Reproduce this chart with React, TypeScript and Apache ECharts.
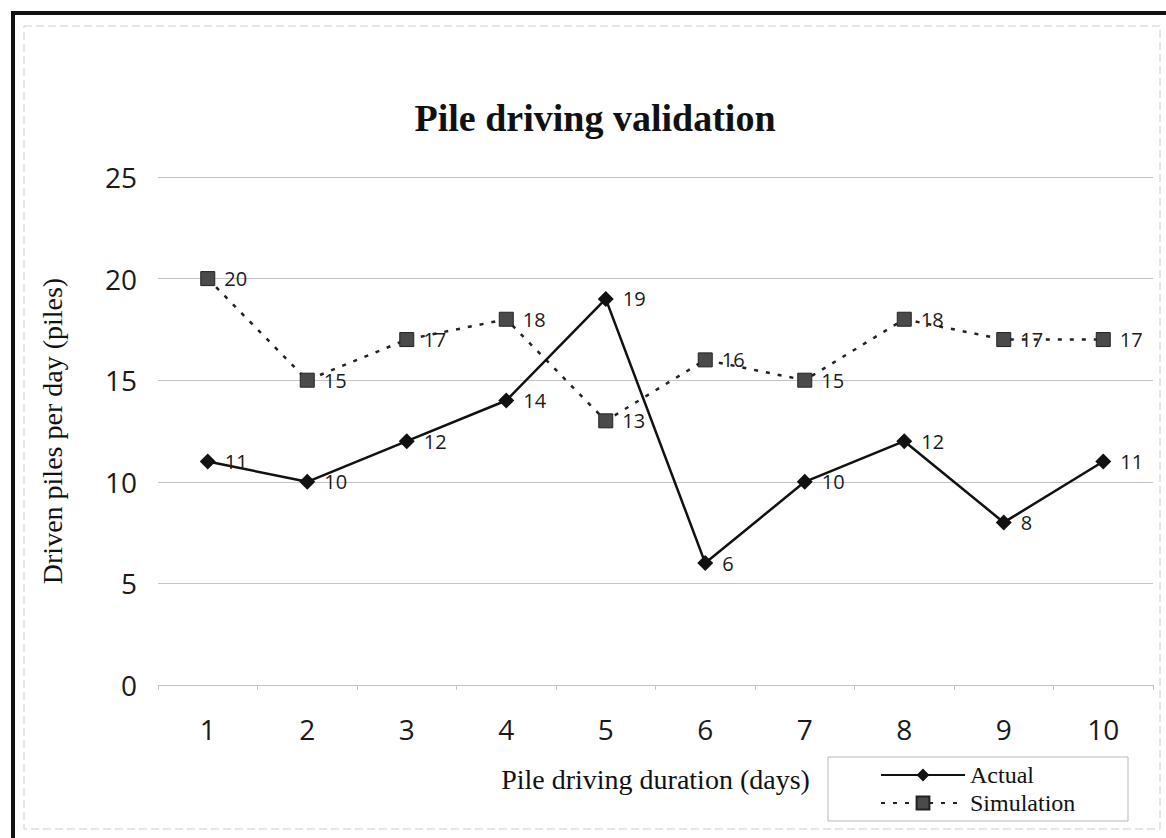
import React, { useEffect, useRef } from "react";
import * as echarts from "echarts";

const days = ["1", "2", "3", "4", "5", "6", "7", "8", "9", "10"];
const actual = [11, 10, 12, 14, 19, 6, 10, 12, 8, 11];
const simulation = [20, 15, 17, 18, 13, 16, 15, 18, 17, 17];
const yMin = 0;
const yMax = 25;
const yStep = 5;

const serif = "'Liberation Serif', 'Times New Roman', serif";
const sans = "'Open Sans', 'DejaVu Sans', sans-serif";

export default function App() {
  const ref = useRef<HTMLDivElement>(null);
  useEffect(() => {
    if (!ref.current) return;
    const chart = echarts.init(ref.current, null, { renderer: "svg" });
    chart.setOption({
      animation: false,
      backgroundColor: "#ffffff",
      title: {
        text: "Pile driving validation",
        left: 590,
        textAlign: "center",
        top: 94,
        textStyle: { fontFamily: serif, fontWeight: "bold", fontSize: 38, color: "#111" },
      },
      grid: { left: 158, right: 13, top: 177, bottom: 153, containLabel: false },
      xAxis: {
        type: "category",
        data: days,
        boundaryGap: true,
        name: "Pile driving duration (days)",
        nameLocation: "middle",
        nameGap: 80,
        nameTextStyle: { fontFamily: serif, fontSize: 28, color: "#111" },
        axisLine: { show: true, lineStyle: { color: "#c4c4c4", width: 1 } },
        axisTick: { show: true, length: 5, lineStyle: { color: "#c4c4c4" } },
        axisLabel: { fontFamily: sans, fontSize: 28, color: "#1a1a1a", margin: 30 },
        splitLine: { show: false },
      },
      yAxis: {
        type: "value",
        min: yMin,
        max: yMax,
        interval: yStep,
        name: "Driven piles per day (piles)",
        nameLocation: "middle",
        nameGap: 92,
        nameTextStyle: { fontFamily: serif, fontSize: 28, color: "#111" },
        axisLine: { show: false },
        axisTick: { show: false },
        axisLabel: { fontFamily: sans, fontSize: 28, color: "#1a1a1a", margin: 21 },
        splitLine: { show: true, lineStyle: { color: "#c4c4c4", width: 1 } },
      },
      legend: {
        orient: "vertical",
        left: 875,
        top: 758,
        itemWidth: 84,
        itemHeight: 16,
        itemGap: 4,
        data: ["Actual", "Simulation"],
        textStyle: { fontFamily: serif, fontSize: 24, color: "#111" },
      },
      graphic: [
        {
          type: "rect",
          shape: { x: 24, y: 26, width: 1136, height: 803 },
          style: { fill: "none", stroke: "#cfcfcf", lineWidth: 1, lineDash: [8, 4] },
          silent: true,
        },
        {
          type: "line",
          shape: { x1: 12, y1: 13, x2: 1166, y2: 13 },
          style: { stroke: "#111", lineWidth: 4 },
          silent: true,
        },
        {
          type: "line",
          shape: { x1: 13, y1: 11, x2: 13, y2: 838 },
          style: { stroke: "#111", lineWidth: 4 },
          silent: true,
        },
        {
          type: "rect",
          shape: { x: 828, y: 757, width: 300, height: 64 },
          style: { fill: "none", stroke: "#b8b8b8", lineWidth: 1 },
          silent: true,
        },
      ],
      series: [
        {
          name: "Actual",
          type: "line",
          data: actual,
          symbol: "diamond",
          symbolSize: 16,
          itemStyle: { color: "#111" },
          lineStyle: { color: "#111", width: 2.5 },
          label: {
            show: true,
            position: "right",
            distance: 9,
            fontFamily: sans,
            fontSize: 20,
            color: "#1a1a1a",
          },
          z: 3,
        },
        {
          name: "Simulation",
          type: "line",
          data: simulation,
          symbol: "rect",
          symbolSize: 14,
          itemStyle: { color: "#4a4a4a", borderColor: "#222", borderWidth: 1 },
          lineStyle: { color: "#222", width: 2.5, type: [4, 8] },
          label: {
            show: true,
            position: "right",
            distance: 9,
            fontFamily: sans,
            fontSize: 20,
            color: "#1a1a1a",
          },
          z: 2,
        },
      ],
    });
    return () => chart.dispose();
  }, []);
  return (
    <div
      ref={ref}
      style={{ position: "fixed", left: 0, top: 0, width: 1166, height: 838, background: "#fff" }}
    />
  );
}
